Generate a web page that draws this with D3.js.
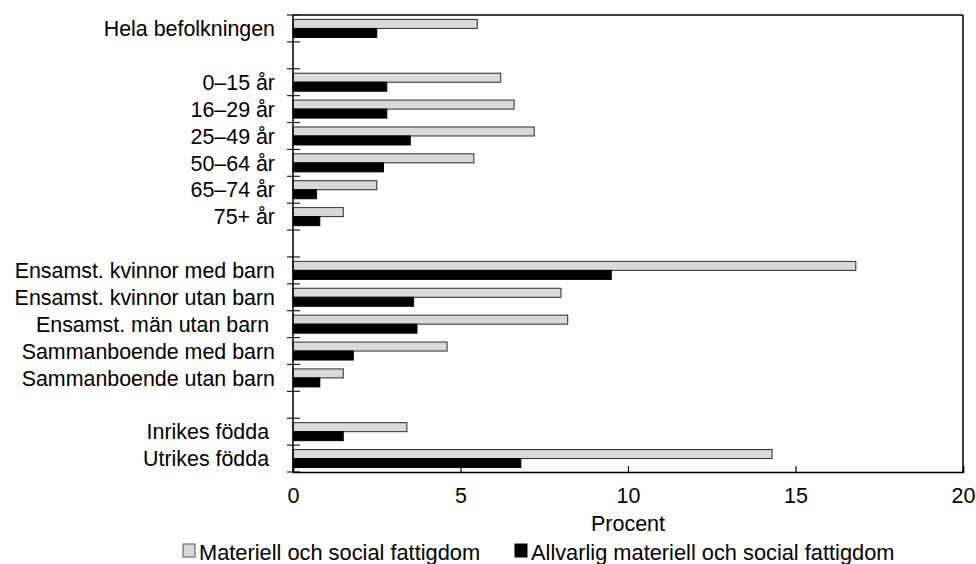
<!DOCTYPE html>
<html>
<head>
<meta charset="utf-8">
<script src="https://cdn.jsdelivr.net/npm/d3@7"></script>
<style>
  html, body { margin: 0; padding: 0; background: #fff; }
  text { font-family: "Liberation Sans", Arial, sans-serif; fill: #000; }
</style>
</head>
<body>
<svg id="chart" width="976" height="564"></svg>
<script>
const categories = ["Hela befolkningen", "", "0–15 år", "16–29 år", "25–49 år", "50–64 år", "65–74 år", "75+ år", "",
  "Ensamst. kvinnor med barn", "Ensamst. kvinnor utan barn", "Ensamst. män utan barn ", "Sammanboende med barn",
  "Sammanboende utan barn", "", "Inrikes födda ", "Utrikes födda "];
const materiell = [5.5, null, 6.2, 6.6, 7.2, 5.4, 2.5, 1.5, null, 16.8, 8.0, 8.2, 4.6, 1.5, null, 3.4, 14.3];
const allvarlig = [2.5, null, 2.8, 2.8, 3.5, 2.7, 0.7, 0.8, null, 9.5, 3.6, 3.7, 1.8, 0.8, null, 1.5, 6.8];
const xTicks = [0, 5, 10, 15, 20];
const seriesNames = ["Materiell och social fattigdom", "Allvarlig materiell och social fattigdom"];
const seriesColors = ["#d9d9d9", "#000000"];

const svg = d3.select("#chart");
const m = { left: 293, right: 963, top: 15, bottom: 472 };
const fs = 21.4;

const x = d3.scaleLinear().domain([0, 20]).range([m.left, m.right]);
const y = d3.scaleBand().domain(d3.range(categories.length)).range([m.top, m.bottom]).padding(0);
const bw = y.bandwidth();
const barH = 9;
const off = (bw - 2 * barH) / 2;

// bars
const g = svg.append("g");
categories.forEach((c, i) => {
  [materiell[i], allvarlig[i]].forEach((v, s) => {
    if (v == null) return;
    g.append("rect")
      .attr("x", x(0))
      .attr("y", y(i) + off + s * barH)
      .attr("width", x(v) - x(0))
      .attr("height", barH)
      .attr("fill", seriesColors[s])
      .attr("stroke", s === 0 ? "#2a2a2a" : "#000")
      .attr("stroke-width", 1);
  });
});

// frame
svg.append("line").attr("x1", m.left).attr("x2", m.right).attr("y1", m.top).attr("y2", m.top).attr("stroke", "#000").attr("stroke-width", 1.5);
svg.append("line").attr("x1", m.right).attr("x2", m.right).attr("y1", m.top).attr("y2", m.bottom).attr("stroke", "#000").attr("stroke-width", 1.5);

// y axis ticks (crossing) at band boundaries
const bounds = d3.range(categories.length + 1).map(k => m.top + k * bw);
svg.append("g").selectAll("line").data(bounds).join("line")
  .attr("x1", m.left - 6).attr("x2", m.left + 7)
  .attr("y1", d => d).attr("y2", d => d)
  .attr("stroke", "#222").attr("stroke-width", 1.2);
svg.append("line").attr("x1", m.left).attr("x2", m.left).attr("y1", m.top).attr("y2", m.bottom).attr("stroke", "#000").attr("stroke-width", 1.5);

// y labels
svg.append("g").selectAll("text").data(categories).join("text")
  .attr("x", m.left - 18)
  .attr("y", (d, i) => y(i) + bw / 2)
  .attr("dy", "0.36em")
  .attr("text-anchor", "end")
  .attr("xml:space", "preserve")
  .style("white-space", "pre")
  .style("font-size", fs + "px")
  .text(d => d);

// x axis
const xAxis = d3.axisBottom(x).tickValues(xTicks).tickSize(-6).tickPadding(16).tickFormat(d3.format("d"));
const xg = svg.append("g").attr("transform", `translate(0,${m.bottom})`).call(xAxis);
xg.select(".domain").attr("stroke", "#000").attr("stroke-width", 1.5);
xg.selectAll(".tick line").attr("stroke", "#000").attr("stroke-width", 1.2);
xg.selectAll(".tick text").style("font-size", "21.5px").style("font-family", "'Liberation Sans', Arial, sans-serif").attr("fill", "#000");

svg.append("text")
  .attr("x", (m.left + m.right) / 2).attr("y", 523).attr("dy", "0.36em")
  .attr("text-anchor", "middle").style("font-size", "21.5px").text("Procent");

// legend
const legendX = [183, 515];
seriesNames.forEach((n, s) => {
  svg.append("rect").attr("x", legendX[s]).attr("y", 544).attr("width", 12).attr("height", 13)
    .attr("fill", seriesColors[s]).attr("stroke", s === 0 ? "#555" : "#000").attr("stroke-width", 1);
  svg.append("text").attr("x", legendX[s] + 16).attr("y", 560)
    .style("font-size", "21.8px").text(n);
});
</script>
</body>
</html>
